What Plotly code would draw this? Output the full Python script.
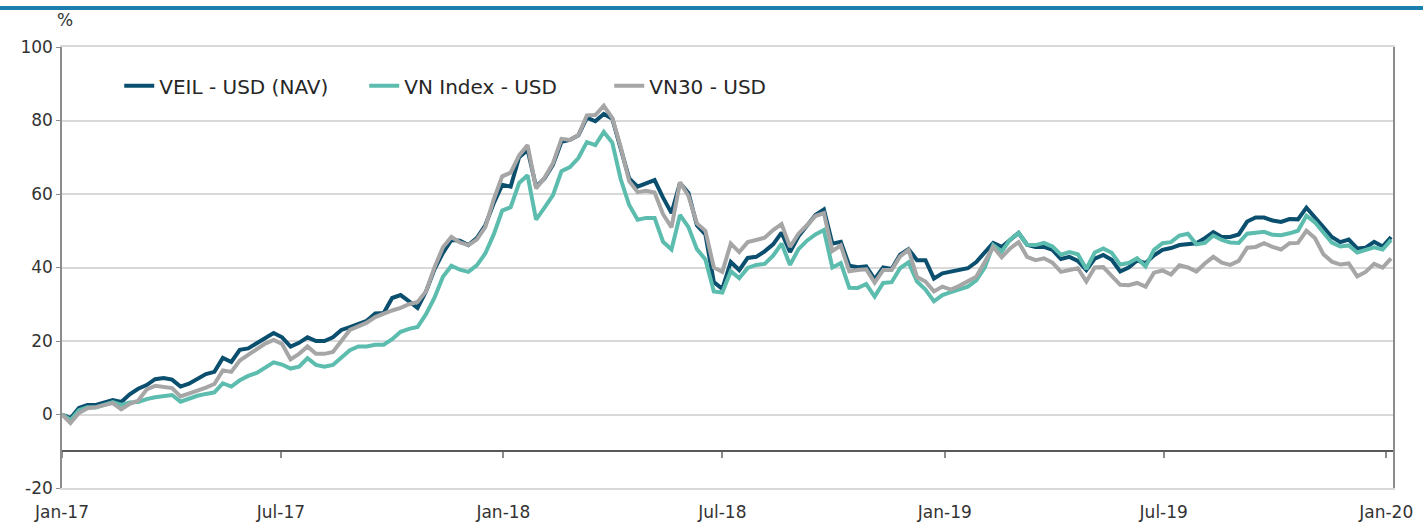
import pandas as pd
import plotly.graph_objects as go

dates = pd.date_range("2017-01-01", periods=158, freq="7D")

veil = [0, -1, 1.8, 2.6, 2.6, 3.2, 3.9, 3.4, 5.5, 7.0,
        8.0, 9.6, 9.9, 9.5, 7.6, 8.4, 9.7, 11.0, 11.6, 15.4,
        14.3, 17.6, 18.0, 19.4, 20.5, 22.2, 21.0, 18.5, 19.5, 21.0,
        20.0, 20.0, 21.0, 23.0, 23.8, 24.6, 25.5, 27.5, 27.6, 31.7,
        32.5, 30.8, 29.0, 33.5, 39.5, 44.0, 47.5, 47.3, 46.1, 48.0,
        51.5, 57.5, 62.5, 62.0, 70.0, 72.0, 62.0, 64.2, 68.0, 74.2,
        74.7, 76.0, 80.8, 79.8, 81.8, 80.5, 72.0, 64.2, 62.0, 62.8,
        63.8, 59.0, 54.8, 63.0, 60.3, 51.5, 49.0, 36.0, 34.2, 41.5,
        39.3, 42.6, 42.9, 44.4, 46.3, 49.5, 44.2, 48.5, 51.3, 54.3,
        55.8, 46.5, 47.0, 40.5, 40.1, 40.3, 36.8, 40.0, 39.6, 43.5,
        45.0, 42.0, 42.0, 37.0, 38.4, 38.8, 39.3, 39.8, 41.5, 44.0,
        46.7, 45.6, 47.4, 49.4, 46.2, 45.6, 45.6, 44.8, 42.3, 42.9,
        41.8, 39.3, 42.4, 43.4, 42.1, 38.9, 40.0, 41.9, 41.2, 43.3,
        44.8, 45.3, 46.1, 46.3, 46.6, 48.0, 49.6, 48.3, 48.3, 49.0,
        52.5, 53.6, 53.6, 52.8, 52.4, 53.2, 53.1, 56.3, 53.8, 51.0,
        48.3, 46.9, 47.6, 45.2, 45.4, 47.0, 45.7, 48.3]

vn_index = [0, -1.5, 1.2, 2.0, 1.9, 2.6, 3.4, 2.6, 3.3, 3.4,
            4.2, 4.7, 5.0, 5.3, 3.5, 4.3, 5.1, 5.6, 6.0, 8.5,
            7.6, 9.3, 10.5, 11.3, 12.6, 14.2, 13.6, 12.5, 13.0, 15.3,
            13.5, 13.0, 13.5, 15.5, 17.5, 18.5, 18.5, 19.0, 19.0, 20.5,
            22.5, 23.3, 23.8, 27.3, 31.8, 37.5, 40.5, 39.4, 38.8, 40.6,
            43.8, 49.0, 55.5, 56.4, 63.0, 65.1, 53.0, 56.3, 59.7, 66.2,
            67.3, 69.8, 74.1, 73.3, 76.9, 74.0, 64.0, 57.0, 53.0, 53.5,
            53.5, 47.0, 44.9, 54.3, 51.0, 45.0, 42.2, 33.5, 33.2, 39.0,
            37.1, 39.9, 40.7, 41.0, 43.2, 46.5, 40.7, 45.0, 47.3, 49.0,
            50.2, 40.0, 41.2, 34.5, 34.4, 35.5, 32.1, 35.8, 36.0, 39.8,
            41.4, 36.2, 34.0, 30.8, 32.5, 33.3, 34.0, 34.8, 36.5, 40.0,
            46.1, 44.3, 47.6, 49.4, 46.2, 46.1, 46.7, 45.7, 43.5, 44.2,
            43.6, 39.6, 44.1, 45.2, 44.0, 40.8, 41.2, 42.5, 40.3, 44.8,
            46.6, 46.9, 48.7, 49.2, 46.3, 46.7, 48.7, 47.5, 46.8, 46.7,
            49.2, 49.5, 49.7, 48.9, 48.8, 49.3, 50.0, 54.1, 52.3, 49.5,
            46.8, 45.7, 46.0, 44.1, 44.8, 45.5, 44.9, 47.5]

vn30 = [0, -2.3, 0.4, 1.7, 2.0, 2.6, 3.1, 1.4, 2.9, 3.8,
        6.8, 7.8, 7.5, 7.2, 4.9, 5.6, 6.5, 7.3, 8.3, 12.0,
        11.6, 14.7, 16.3, 17.8, 19.3, 20.3, 19.2, 15.0, 16.5, 18.5,
        16.5, 16.5, 17.0, 20.0, 23.0, 24.0, 25.0, 26.5, 27.5, 28.3,
        29.0, 30.0, 30.6, 33.5, 40.0, 45.5, 48.3, 46.8, 46.1, 47.6,
        51.0, 58.5, 64.8, 65.8, 70.5, 73.3, 61.5, 64.4, 68.4, 75.0,
        74.7, 76.0, 81.4, 81.5, 84.0, 80.7, 72.8, 63.5, 60.5, 60.9,
        60.4, 54.5, 50.9, 63.2, 59.5, 52.0, 50.0, 40.0, 38.8, 46.5,
        44.2, 46.9, 47.5, 48.1, 50.2, 51.8, 45.6, 49.2, 51.5, 54.0,
        54.8, 44.5, 46.0, 39.0, 39.3, 39.5, 35.9, 39.3, 39.3, 43.0,
        44.8, 37.4, 36.2, 33.5, 34.8, 34.0, 35.0, 36.3, 37.5, 41.5,
        45.6, 42.8, 45.2, 46.9, 42.9, 42.0, 42.5, 41.3, 38.8, 39.3,
        39.8, 36.2, 40.0, 40.1, 37.6, 35.3, 35.2, 35.8, 34.8, 38.6,
        39.2, 38.1, 40.6, 40.0, 38.9, 41.1, 42.9, 41.3, 40.7, 41.8,
        45.4, 45.6, 46.6, 45.6, 44.9, 46.6, 46.7, 50.0, 48.0, 43.6,
        41.6, 40.8, 41.1, 37.6, 38.8, 41.0, 40.0, 42.5]

tick_dates = ["2017-01-01", "2017-07-01", "2018-01-01", "2018-07-01",
              "2019-01-01", "2019-07-01", "2020-01-01"]
tick_labels = ["Jan-17", "Jul-17", "Jan-18", "Jul-18", "Jan-19", "Jul-19", "Jan-20"]
y_tickvals = [-20, 0, 20, 40, 60, 80, 100]
y_ticktext = ["-20", "0", "20", "40", "60", "80", "100"]

series_names = ["VEIL - USD (NAV)", "VN Index - USD", "VN30 - USD"]
series_colors = ["#0b4f6f", "#5cbcae", "#a6a6a6"]

FONT = "DejaVu Sans"
x_range = ["2017-01-01", "2020-01-06 14:00"]

fig = go.Figure()
for name, vals, col in zip(series_names, [veil, vn_index, vn30], series_colors):
    fig.add_trace(go.Scatter(x=dates, y=vals, mode="lines", name=name,
                             line=dict(color=col, width=4)))

# invisible trace so the secondary x axis (line at -10) is drawn
fig.add_trace(go.Scatter(x=[dates[0]], y=[None], xaxis="x2", showlegend=False,
                         hoverinfo="skip", mode="lines"))

fig.update_layout(
    width=1423, height=522,
    margin=dict(l=62, r=30, t=47, b=34),
    paper_bgcolor="white", plot_bgcolor="white",
    font=dict(family=FONT, size=18, color="#333333"),
    showlegend=True,
    legend=dict(orientation="h", x=0.043, y=0.912, xanchor="left", yanchor="middle",
                bgcolor="rgba(0,0,0,0)", font=dict(size=20, color="#262626"),
                entrywidth=200, entrywidthmode="pixels"),
    xaxis=dict(type="date", range=x_range, tickvals=tick_dates, ticktext=tick_labels,
               ticks="", showgrid=False, showline=True, linecolor="#d9d9d9",
               linewidth=1.5, mirror=True, zeroline=False, ticklabelstandoff=8,
               automargin=False,
               tickfont=dict(size=17, color="#333333")),
    xaxis2=dict(type="date", range=x_range, tickvals=tick_dates, overlaying="x",
                anchor="free", position=10 / 120, side="bottom", automargin=False,
                showticklabels=False, ticks="outside", ticklen=6, tickwidth=1.5,
                tickcolor="#8c8c8c", showline=True, linecolor="#595959",
                linewidth=1.5, showgrid=False, zeroline=False),
    yaxis=dict(range=[-20, 100], tickvals=y_tickvals, ticktext=y_ticktext,
               showgrid=True, gridcolor="#d9d9d9", gridwidth=1.5, zeroline=False,
               showline=True, linecolor="#8c8c8c", linewidth=1.5, mirror=True,
               ticks="outside", ticklen=4, tickcolor="#8c8c8c", automargin=False,
               tickfont=dict(size=17, color="#333333")),
    shapes=[dict(type="line", xref="paper", yref="paper",
                 x0=-62 / 1331, x1=1 + 30 / 1331, y0=1.0885, y1=1.0885,
                 line=dict(color="#1b7eac", width=4))],
    annotations=[dict(text="%", xref="paper", yref="paper", x=0.002, y=1.062,
                      showarrow=False, xanchor="center", yanchor="middle",
                      font=dict(size=17, color="#333333"))],
)

fig.write_html("out.html")
